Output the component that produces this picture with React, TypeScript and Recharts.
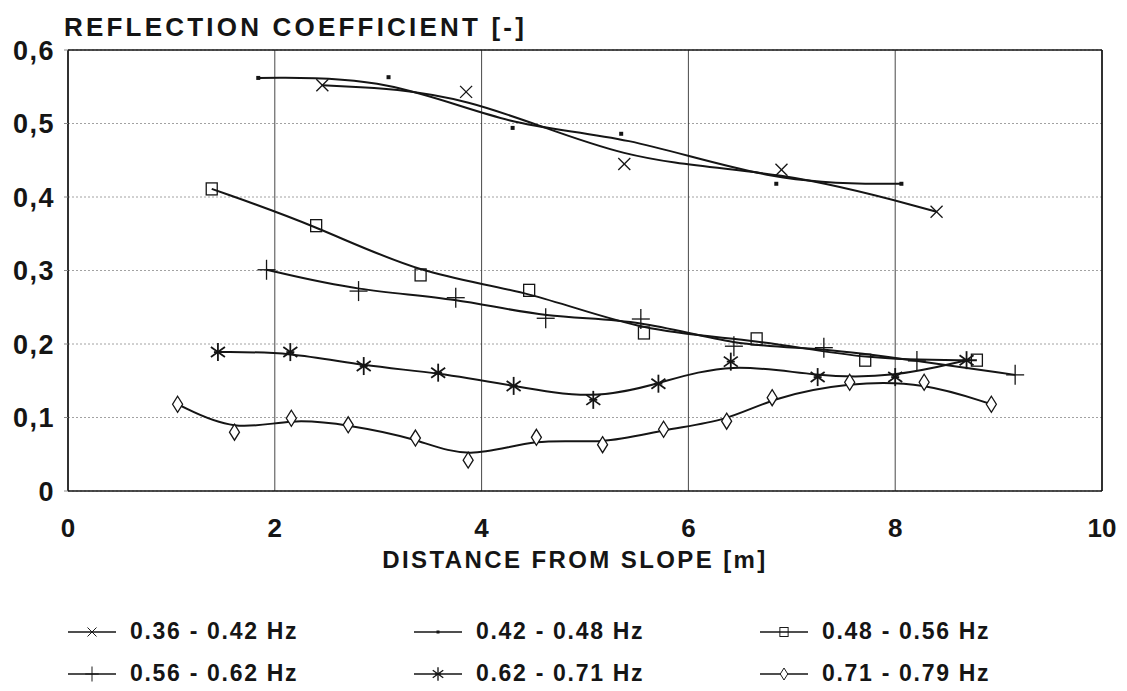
import { LineChart, Line, XAxis, YAxis, CartesianGrid, ReferenceLine } from 'recharts'

// frequency bands (legend)
const BANDS = ['0.36 - 0.42 Hz', '0.42 - 0.48 Hz', '0.48 - 0.56 Hz', '0.56 - 0.62 Hz', '0.62 - 0.71 Hz', '0.71 - 0.79 Hz']
const MARKERS = ['cross', 'dot', 'square', 'plus', 'star', 'diamond'] as const

// measured points, distance from slope [m] / reflection coefficient [-]
const X_036 = [2.46, 3.85, 5.38, 6.9, 8.4]
const Y_036 = [0.552, 0.543, 0.445, 0.437, 0.38]

const X_042 = [1.84, 3.1, 4.3, 5.35, 6.85, 8.06]
const Y_042 = [0.562, 0.563, 0.494, 0.486, 0.418, 0.418]

const X_048 = [1.39, 2.4, 3.41, 4.46, 5.57, 6.66, 7.71, 8.79]
const Y_048 = [0.411, 0.361, 0.294, 0.273, 0.215, 0.207, 0.178, 0.178]

const X_056 = [1.92, 2.81, 3.75, 4.62, 5.54, 6.44, 7.31, 8.21, 9.16]
const Y_056 = [0.301, 0.272, 0.263, 0.235, 0.234, 0.197, 0.195, 0.177, 0.158]

const X_062 = [1.45, 2.15, 2.86, 3.58, 4.31, 5.08, 5.71, 6.41, 7.25, 8.0, 8.69]
const Y_062 = [0.189, 0.189, 0.17, 0.161, 0.143, 0.124, 0.146, 0.176, 0.155, 0.155, 0.178]

const X_071 = [1.06, 1.61, 2.16, 2.71, 3.36, 3.87, 4.53, 5.17, 5.76, 6.37, 6.81, 7.56, 8.28, 8.93]
const Y_071 = [0.118, 0.08, 0.099, 0.09, 0.072, 0.042, 0.073, 0.063, 0.084, 0.095, 0.127, 0.148, 0.148, 0.118]

const X_TICKS = [0, 2, 4, 6, 8, 10]
const Y_TICKS = [0, 0.1, 0.2, 0.3, 0.4, 0.5, 0.6]

const toRows = (xs: number[], ys: number[]) => xs.map((x, i) => ({ x, y: ys[i] }))

const SERIES = [
  toRows(X_036, Y_036),
  toRows(X_042, Y_042),
  toRows(X_048, Y_048),
  toRows(X_056, Y_056),
  toRows(X_062, Y_062),
  toRows(X_071, Y_071),
]

const INK = '#151515'
const FONT = '"Liberation Sans", Arial, sans-serif'

function Marker({ kind, cx, cy }: { kind: string; cx: number; cy: number }) {
  const s = { stroke: INK, strokeWidth: 1.3, fill: 'none' }
  if (kind === 'cross') {
    return (
      <g {...s}>
        <line x1={cx - 6} y1={cy - 6} x2={cx + 6} y2={cy + 6} />
        <line x1={cx - 6} y1={cy + 6} x2={cx + 6} y2={cy - 6} />
      </g>
    )
  }
  if (kind === 'dot') return <rect x={cx - 2} y={cy - 2} width={4} height={4} fill={INK} />
  if (kind === 'square') return <rect x={cx - 5.5} y={cy - 6} width={11} height={12} fill="white" {...s} fillOpacity={1} />
  if (kind === 'plus') {
    return (
      <g {...s}>
        <line x1={cx - 9} y1={cy} x2={cx + 9} y2={cy} />
        <line x1={cx} y1={cy - 10} x2={cx} y2={cy + 10} />
      </g>
    )
  }
  if (kind === 'star') {
    return (
      <g stroke={INK} strokeWidth={1.8}>
        <line x1={cx} y1={cy - 9} x2={cx} y2={cy + 9} />
        <line x1={cx - 7} y1={cy - 5} x2={cx + 7} y2={cy + 5} />
        <line x1={cx - 7} y1={cy + 5} x2={cx + 7} y2={cy - 5} />
        <line x1={cx - 4} y1={cy} x2={cx + 4} y2={cy} />
      </g>
    )
  }
  return (
    <polygon
      points={`${cx},${cy - 8} ${cx + 5},${cy} ${cx},${cy + 8} ${cx - 5},${cy}`}
      fill="white"
      stroke={INK}
      strokeWidth={1.3}
    />
  )
}

// legend glyphs are drawn a bit smaller than the plot markers
function LegendItem({ label, kind }: { label: string; kind: string }) {
  return (
    <div style={{ display: 'flex', alignItems: 'center' }}>
      <svg width={56} height={24}>
        <line x1={4} y1={12} x2={52} y2={12} stroke={INK} strokeWidth={1.6} />
        <g transform="translate(28 12) scale(0.75) translate(-28 -12)">
          <Marker kind={kind} cx={28} cy={12} />
        </g>
      </svg>
      <span style={{ marginLeft: 10, fontSize: 23, fontWeight: 700, letterSpacing: 1.7 }}>{label}</span>
    </div>
  )
}

const fmtY = (v: number) => (v === 0 ? '0' : v.toFixed(1).replace('.', ','))

export default function App() {
  return (
    <div style={{ position: 'absolute', left: 0, top: 0, width: 1127, height: 691, background: 'white', fontFamily: FONT, color: INK }}>
      <div style={{ position: 'absolute', left: 64, top: 12, fontSize: 26, fontWeight: 700, letterSpacing: 3.2 }}>
        REFLECTION COEFFICIENT [-]
      </div>

      <LineChart
        width={1127}
        height={691}
        margin={{ top: 50, right: 25, bottom: 140, left: 6 }}
        style={{ position: 'absolute', left: 0, top: 0 }}
      >
        <CartesianGrid vertical={false} stroke="#8a8a8a" strokeDasharray="2 2" strokeWidth={0.8} />
        <CartesianGrid horizontal={false} stroke="#333" strokeWidth={0.9} />
        <XAxis
          type="number"
          dataKey="x"
          domain={[0, 10]}
          ticks={X_TICKS}
          allowDataOverflow
          height={60}
          tickLine={false}
          axisLine={{ stroke: INK, strokeWidth: 1.6 }}
          tickMargin={22}
          tick={{ fill: INK, fontSize: 26, fontWeight: 700, fontFamily: FONT }}
        />
        <YAxis
          type="number"
          dataKey="y"
          domain={[0, 0.6]}
          ticks={Y_TICKS}
          allowDataOverflow
          width={62}
          tickSize={4}
          tickMargin={9}
          tickLine={{ stroke: '#8a8a8a' }}
          axisLine={{ stroke: INK, strokeWidth: 1.6 }}
          tickFormatter={fmtY}
          tick={{ fill: INK, fontSize: 27, fontWeight: 700, fontFamily: FONT, letterSpacing: 1.5 }}
        />
        <ReferenceLine y={0.6} stroke={INK} strokeWidth={1.6} />
        <ReferenceLine x={10} stroke={INK} strokeWidth={1.6} />
        {SERIES.map((rows, i) => (
          <Line
            key={BANDS[i]}
            name={BANDS[i]}
            data={rows}
            dataKey="y"
            type="basis"
            stroke={INK}
            strokeWidth={2}
            isAnimationActive={false}
            activeDot={false}
            dot={(p: any) => <Marker key={`${i}-${p.index}`} kind={MARKERS[i]} cx={p.cx} cy={p.cy} />}
          />
        ))}
      </LineChart>

      <div style={{ position: 'absolute', left: 0, width: 1150, top: 546, textAlign: 'center', fontSize: 24, fontWeight: 700, letterSpacing: 2.4 }}>
        DISTANCE FROM SLOPE [m]
      </div>

      <div
        style={{
          position: 'absolute', left: 64, top: 618, width: 1040,
          display: 'grid', gridTemplateColumns: '346px 346px 346px', rowGap: 15,
        }}
      >
        {BANDS.map((b, i) => <LegendItem key={b} label={b} kind={MARKERS[i]} />)}
      </div>
    </div>
  )
}
